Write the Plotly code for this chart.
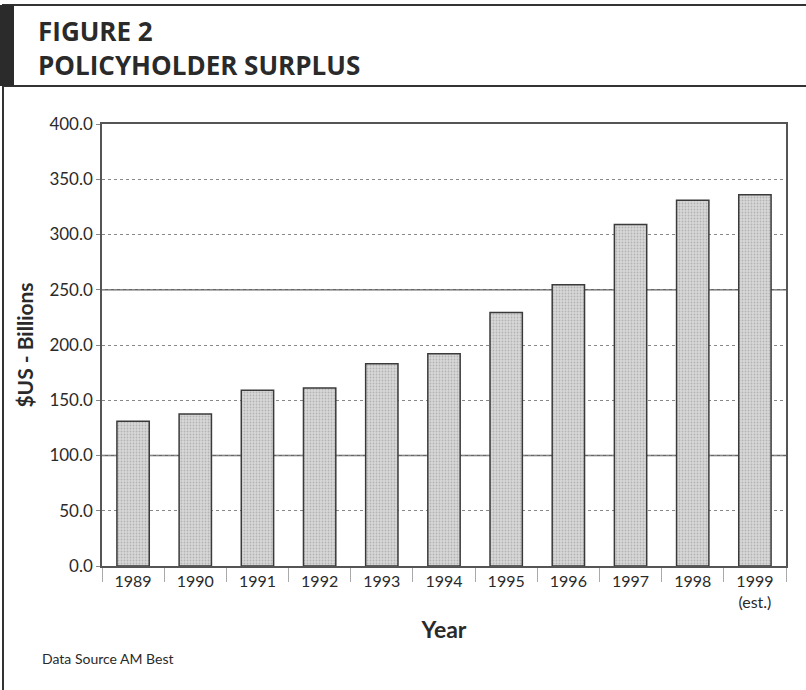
import plotly.graph_objects as go

years = ["1989", "1990", "1991", "1992", "1993", "1994", "1995", "1996", "1997", "1998", "1999<br>(est.)"]
surplus = [131.0, 137.5, 159.0, 161.0, 183.0, 192.0, 229.5, 254.5, 309.0, 331.0, 336.0]
solid_grid = [100, 250]
y_ticks = [0, 50, 100, 150, 200, 250, 300, 350, 400]

W, H = 806, 690
L, R, T, B = 102, 20, 124, 124
pw, ph = W - L - R, H - T - B

def px(x):
    return (x - L) / pw

def py(y):
    return (H - B - y) / ph

FONT = "Lato, 'Open Sans', sans-serif"
DARK = "#2a2a2a"

fig = go.Figure()
fig.add_trace(go.Bar(
    x=years, y=surplus,
    marker=dict(
        color="#d0d0d0",
        line=dict(color="#3a3a3a", width=1.5),
        pattern=dict(shape=".", size=3, solidity=0.3, fgcolor="#8e8e8e", bgcolor="#d8d8d8"),
    ),
    width=0.52,
    hoverinfo="x+y",
))

shapes = []
for g in solid_grid:
    shapes.append(dict(type="line", xref="paper", yref="y", x0=0, x1=1, y0=g, y1=g,
                       line=dict(color="#666", width=1.3), layer="below"))
# frame & header
shapes += [
    dict(type="line", xref="paper", yref="paper", x0=px(2), x1=px(806), y0=py(5), y1=py(5),
         line=dict(color="#333", width=2)),
    dict(type="line", xref="paper", yref="paper", x0=px(2), x1=px(806), y0=py(86), y1=py(86),
         line=dict(color="#333", width=2)),
    dict(type="line", xref="paper", yref="paper", x0=px(3), x1=px(3), y0=py(5), y1=py(690),
         line=dict(color="#333", width=2)),
    dict(type="rect", xref="paper", yref="paper", x0=px(0), x1=px(14), y0=py(86), y1=py(5),
         fillcolor="#2b2b2b", line=dict(width=0)),
]

annotations = [
    dict(text="<b>FIGURE 2</b><br><b>POLICYHOLDER SURPLUS</b>", xref="paper", yref="paper",
         x=px(36), y=py(48), xanchor="left", yanchor="middle", align="left", showarrow=False,
         font=dict(family="'Open Sans', Lato, sans-serif", size=26, color=DARK)),
    dict(text="Data Source AM Best", xref="paper", yref="paper", x=px(40), y=py(658),
         xanchor="left", yanchor="middle", showarrow=False,
         font=dict(family=FONT, size=14, color=DARK)),
]

fig.update_layout(
    width=W, height=H,
    margin=dict(l=L, r=R, t=T, b=B),
    paper_bgcolor="white", plot_bgcolor="white",
    shapes=shapes, annotations=annotations,
    showlegend=False,
    font=dict(family=FONT, color=DARK),
    bargap=0.48,
)
fig.update_xaxes(
    type="category",
    showline=True, mirror=True, linecolor="#555", linewidth=1.5,
    ticks="outside", tickson="boundaries", ticklen=14, tickcolor="#aaa", tickwidth=1,
    tickfont=dict(family=FONT, size=16, color=DARK),
    title=dict(text="<b>Year</b>", font=dict(family=FONT, size=23, color=DARK), standoff=12),
    showgrid=False,
)
fig.update_yaxes(
    range=[0, 400], tickvals=y_ticks, tickformat=".1f",
    showline=True, mirror=True, linecolor="#555", linewidth=1.5,
    ticks="outside", ticklen=4, tickcolor="#888",
    tickfont=dict(family=FONT, size=17, color=DARK),
    showgrid=True, gridcolor="#888", griddash="dot", gridwidth=1,
    title=dict(text="<b>$US - Billions</b>", font=dict(family=FONT, size=21, color=DARK), standoff=10),
    zeroline=False,
)

fig.write_html("out.html", config={"displayModeBar": False},
               post_script="document.body.style.margin='0';")
